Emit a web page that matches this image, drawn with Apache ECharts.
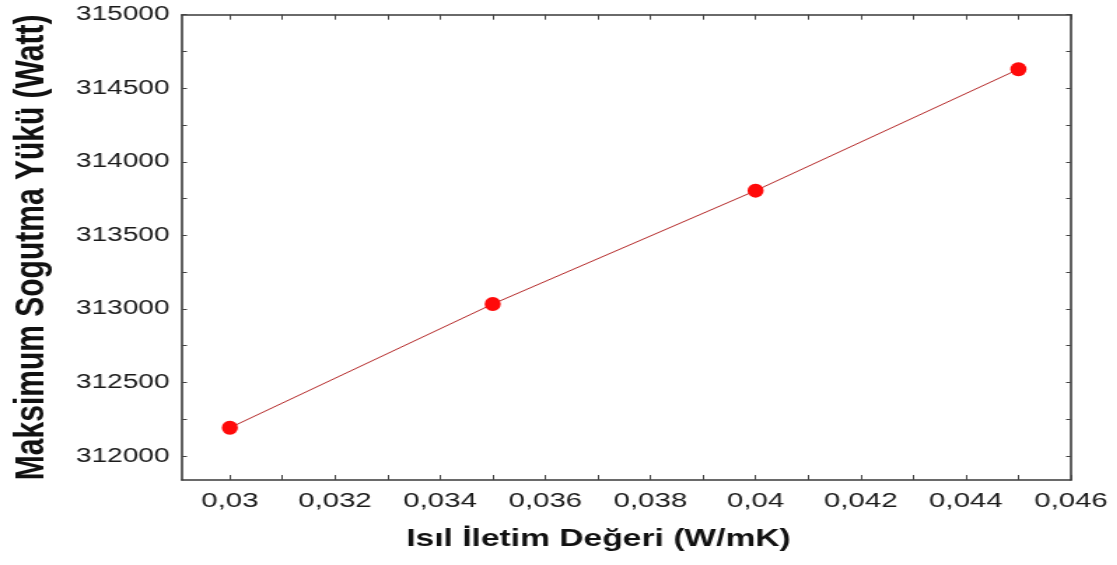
<!DOCTYPE html>
<html>
<head>
<meta charset="utf-8">
<script src="https://cdn.jsdelivr.net/npm/echarts@6/dist/echarts.min.js"></script>
<style>
html,body{margin:0;padding:0;background:#fff;overflow:hidden;width:1117px;height:565px;}
#chart{width:798px;height:565px;transform:scaleX(1.4);transform-origin:0 0;}
</style>
</head>
<body>
<div id="chart"></div>
<script>
// Data
const xValues = [0.03, 0.035, 0.04, 0.045];
const yValues = [312192, 313033, 313804, 314629];
const xTickLabels = [0.03, 0.032, 0.034, 0.036, 0.038, 0.04, 0.042, 0.044, 0.046];
const xMinorTicks = [0.03, 0.031, 0.032, 0.033, 0.034, 0.035, 0.036, 0.037, 0.038, 0.039, 0.04, 0.041, 0.042, 0.043, 0.044, 0.045, 0.046];
const yTickLabels = [312000, 312500, 313000, 313500, 314000, 314500, 315000];
const yMinorTicks = [312000, 312250, 312500, 312750, 313000, 313250, 313500, 313750, 314000, 314250, 314500, 314750, 315000];
const xTitle = 'Isıl İletim Değeri (W/mK)';
const yTitle = 'Maksimum Sogutma Yükü (Watt)';

const chart = echarts.init(document.getElementById('chart'), null, {renderer: 'canvas'});
const axisLineStyle = {color: '#3a3a3a', width: 1.6};
const fmtX = v => {
  let s = (Math.round(v * 1000000) / 1000000).toString();
  return s.replace('.', ',');
};
const fmtY = v => String(Math.round(v));
const font = '"Liberation Sans", Arial, sans-serif';

chart.setOption({
  animation: false,
  backgroundColor: '#fff',
  grid: {left: 128.6, right: 33, top: 14.7, bottom: 85, containLabel: false},
  xAxis: [{
    type: 'value', position: 'bottom', min: 0.02909, max: 0.046,
    axisLine: {show: true, onZero: false, lineStyle: axisLineStyle},
    axisTick: {show: true, inside: true, length: 5, customValues: xMinorTicks, lineStyle: {color: '#444', width: 1}},
    axisLabel: {show: true, customValues: xTickLabels, formatter: fmtX, margin: 11,
      fontSize: 21, color: '#1a1a1a', fontFamily: font},
    splitLine: {show: false},
    name: xTitle, nameLocation: 'middle', nameGap: 47,
    nameTextStyle: {fontSize: 24, fontWeight: 'bold', color: '#111', fontFamily: font, padding: [0, 40, 0, 0]}
  }, {
    type: 'value', position: 'top', min: 0.02909, max: 0.046,
    axisLine: {show: true, onZero: false, lineStyle: axisLineStyle},
    axisTick: {show: true, inside: true, length: 5, customValues: xMinorTicks, lineStyle: {color: '#444', width: 1}},
    axisLabel: {show: false},
    splitLine: {show: false}
  }],
  yAxis: [{
    type: 'value', position: 'left', min: 311837, max: 315000,
    axisLine: {show: true, onZero: false, lineStyle: axisLineStyle},
    axisTick: {show: true, inside: true, length: 3.5, customValues: yMinorTicks, lineStyle: {color: '#444', width: 1}},
    axisLabel: {show: true, customValues: yTickLabels, formatter: fmtY, margin: 9,
      fontSize: 20, color: '#1a1a1a', fontFamily: font},
    splitLine: {show: false},
    name: yTitle, nameLocation: 'middle', nameGap: 92, nameRotate: 90,
    nameTextStyle: {fontSize: 30, fontWeight: 'bold', color: '#111', fontFamily: font, padding: [0, 0, 0, 0]}
  }, {
    type: 'value', position: 'right', min: 311837, max: 315000,
    axisLine: {show: true, onZero: false, lineStyle: axisLineStyle},
    axisTick: {show: true, inside: true, length: 3.5, customValues: yMinorTicks, lineStyle: {color: '#444', width: 1}},
    axisLabel: {show: false},
    splitLine: {show: false}
  }],
  series: [{
    type: 'line',
    xAxisIndex: 0, yAxisIndex: 0,
    data: xValues.map((x, i) => [x, yValues[i]]),
    symbol: 'circle',
    symbolSize: [11.5, 14],
    showSymbol: true,
    itemStyle: {color: '#ff0a0a'},
    lineStyle: {color: '#b52a2a', width: 1},
    z: 3
  }]
});
</script>
</body>
</html>
